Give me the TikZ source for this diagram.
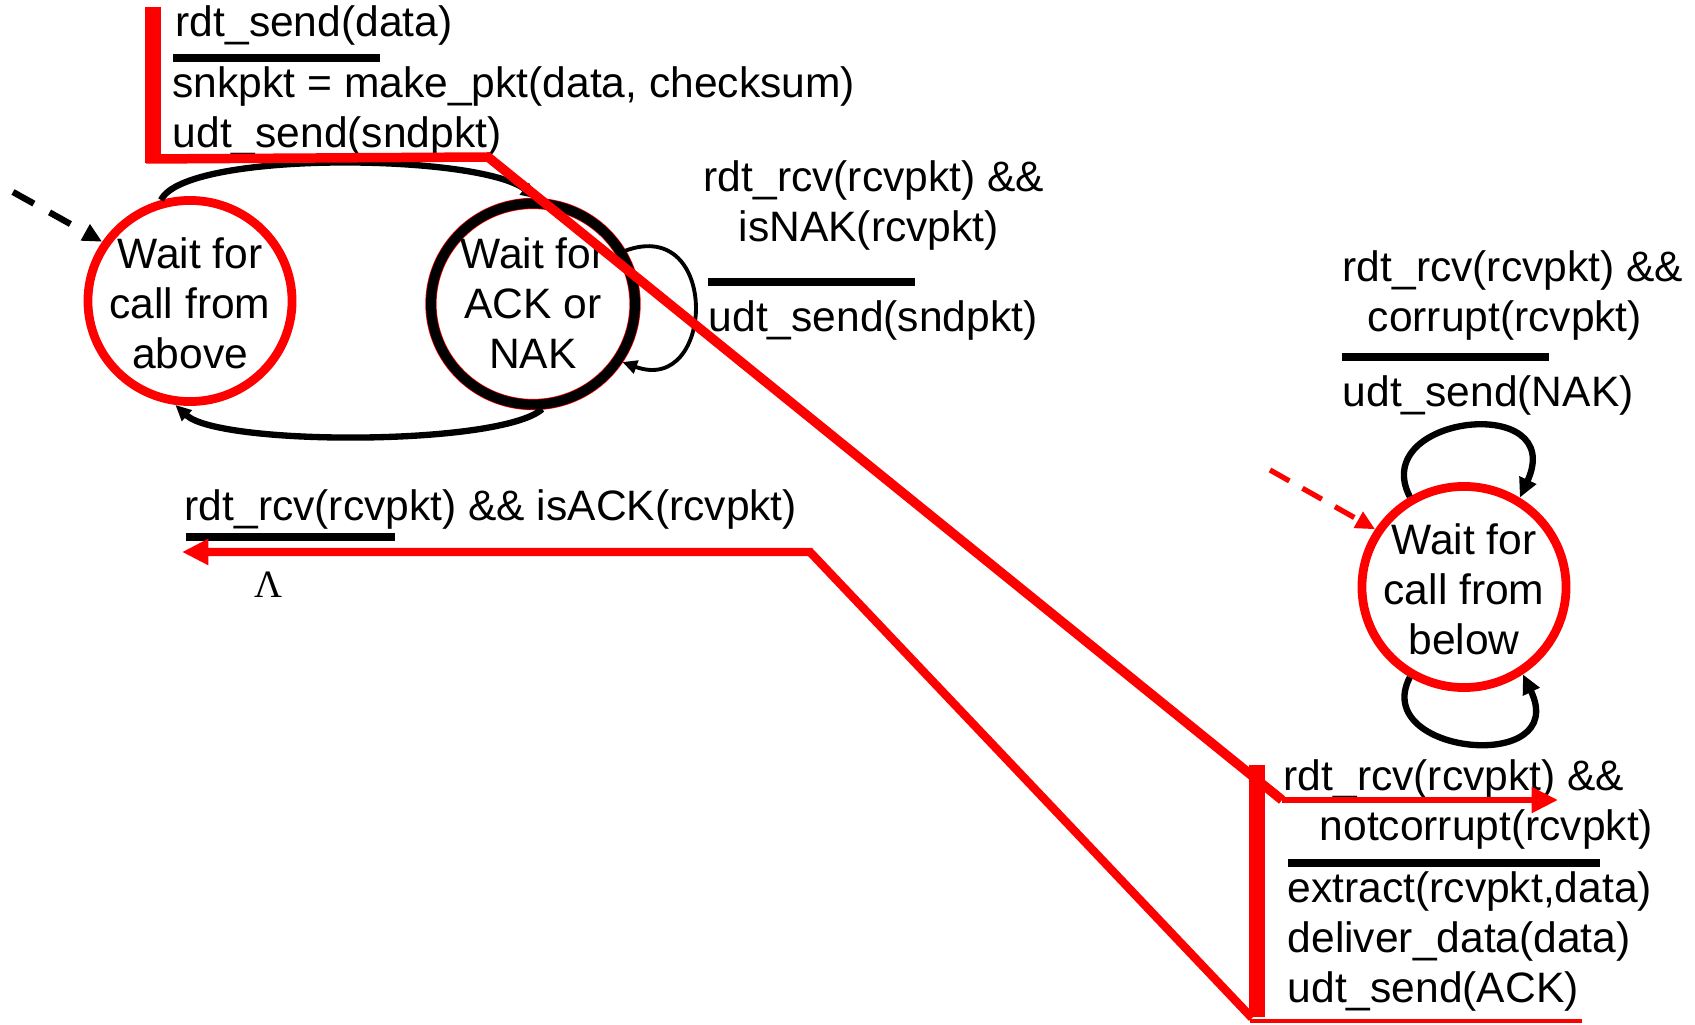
\documentclass[tikz,border=0pt]{standalone}
\usepackage{fontspec}
\setmainfont{Liberation Sans}
\newfontfamily\lamfont{Liberation Serif}
\usetikzlibrary{shapes.geometric,arrows.meta}
\begin{document}
\begin{tikzpicture}[x=0.01cm,y=-0.01cm,
  lbl/.style={anchor=base west, inner sep=0, font=\fontsize{12.1pt}{14.2pt}\selectfont},
  statebox/.style={ellipse, draw, line width=2.5pt, minimum width=2.04cm, minimum height=2.01cm, inner sep=0},
  stxt/.style={align=center, inner sep=0, font=\fontsize{12.1pt}{14.2pt}\selectfont},
  rulebar/.style={line width=2pt},
  arc/.style={line width=1.8pt, -{Triangle[length=4.5pt,width=4pt]}},
  thinloop/.style={line width=1.1pt, -{Triangle[length=4.2pt,width=3.8pt]}},
  loopb/.style={line width=1.8pt, -{Triangle[length=5.5pt,width=5pt]}},
  redbar/.style={red, line width=4.6pt},
  redtip/.style={-{Triangle[length=7.5pt,width=7pt]}}
]
\useasboundingbox (0,0) rectangle (1695,1025);

% states
\node[statebox, draw=red] (s1) at (190,301) {};
\node[stxt] (s1t) at (190,303) {Wait for\\call from\\above};
\node[statebox, draw=red, line width=3.2pt] (s2r) at (533,304) {};
\node[statebox, line width=2.8pt] (s2) at (533,304) {};
\node[stxt] (s2t) at (533,303) {Wait for\\ACK or\\NAK};
\node[statebox, draw=red] (s3) at (1464,587) {};
\node[stxt] (s3t) at (1464,589) {Wait for\\call from\\below};

% initial arrows
\coordinate (i1) at (13,192);
\draw[line width=1.8pt, dash pattern=on 6.8pt off 5.1pt, -{Triangle[length=5.5pt,width=5pt]}] (i1) -- (s1.146);
\coordinate (i3) at (1270,470);
\draw[red, line width=1.5pt, dash pattern=on 6.3pt off 4.3pt, -{Triangle[length=5.5pt,width=5pt]}] (i3) -- (s3.147);

% transitions between sender states
\draw[arc] (s1.106) .. controls +(24,-50) and +(-57,-45) .. (s2.88);
\draw[arc] (s2.275) .. controls +(-42,37) and +(44,41) .. (s1.262);
\draw[thinloop] (s2.30) .. controls +(95,-35) and +(93,34) .. (s2.-33);

% receiver loops
\draw[loopb] (s3.121) .. controls +(-42,-82) and +(48,-105) .. (s3.58);
\draw[loopb] (s3.239) .. controls +(-40,78) and +(48,100) .. (s3.304);

% labels: sender top
\node[lbl] (t1) at (175,37) {rdt\_send(data)};
\draw[rulebar] (173,58) -- (380,58);
\node[lbl] (t2) at (172,98) {snkpkt = make\_pkt(data, checksum)};
\node[lbl] (t3) at (172,148) {udt\_send(sndpkt)};

% NAK label
\node[lbl] (n1) at (703,192) {rdt\_rcv(rcvpkt) \&\&};
\node[lbl] (n2) at (738,242) {isNAK(rcvpkt)};
\draw[rulebar] (708,282) -- (915,282);
\node[lbl] (n3) at (708,332) {udt\_send(sndpkt)};

% corrupt label
\node[lbl] (c1) at (1342,282) {rdt\_rcv(rcvpkt) \&\&};
\node[lbl] (c2) at (1367,332) {corrupt(rcvpkt)};
\draw[rulebar] (1342,357) -- (1549,357);
\node[lbl] (c3) at (1342,407) {udt\_send(NAK)};

% ACK label
\node[lbl] (k1) at (184,520) {rdt\_rcv(rcvpkt) \&\& isACK(rcvpkt)};
\draw[rulebar] (186,537) -- (395,537);
\node[inner sep=0, font=\lamfont\fontsize{11pt}{12pt}\selectfont] (lam) at (269,585) {Λ};

% bottom label
\node[lbl] (b1) at (1283,790) {rdt\_rcv(rcvpkt) \&\&};
\node[lbl] (b2) at (1319,840) {notcorrupt(rcvpkt)};
\draw[rulebar] (1288,863) -- (1600,863);
\node[lbl] (b3) at (1287,902) {extract(rcvpkt,data)};
\node[lbl] (b4) at (1287,952) {deliver\_data(data)};
\node[lbl] (b5) at (1287,1002) {udt\_send(ACK)};

% red trace 1
\coordinate (a0) at (153,7);
\coordinate (a1) at (153,163);
\coordinate (a2) at (146,159);
\coordinate (a3) at (488,157);
\coordinate (a4) at (1282,800);
\coordinate (a5) at (1558,800);
\draw[redbar] (a0) -- (a1);
\draw[red, line width=2.7pt] (a2) -- (a3) -- (a4);
\draw[red, line width=1.8pt, redtip] (a4) -- (a5);

% red trace 2
\coordinate (b0c) at (1582,1021);
\coordinate (b1c) at (1250,1021);
\coordinate (b2c) at (1257,765);
\coordinate (b3c) at (1257,1017);
\coordinate (b4c) at (1252,1018);
\coordinate (b5c) at (810,552);
\coordinate (b6c) at (182,552);
\draw[red, line width=1.1pt] (b0c) -- (b1c);
\draw[redbar] (b2c) -- (b3c);
\draw[red, line width=2.4pt, redtip] (b4c) -- (b5c) -- (b6c);
\end{tikzpicture}
\end{document}
